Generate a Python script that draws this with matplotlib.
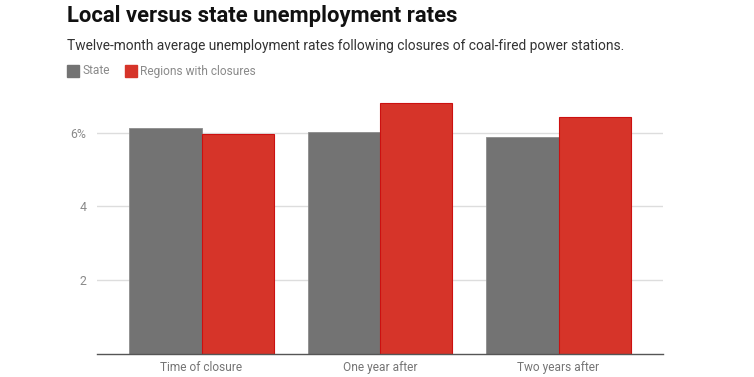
import matplotlib
matplotlib.use("Agg")
import matplotlib.pyplot as plt
import numpy as np

plt.rcParams['font.family'] = ['Roboto', 'DejaVu Sans']

# datos
categorias = ["Time of closure", "One year after", "Two years after"]
estado = [6.13, 6.02, 5.87]
regiones = [5.97, 6.80, 6.43]
series = ["State", "Regions with closures"]
ticks_y = [2, 4, 6]
etiquetas_y = ["2", "4", "6%"]

gris = "#737373"
rojo = "#d63429"

fig = plt.figure(figsize=(7.54, 3.77), dpi=100)
ax = fig.add_axes([0.129, 0.0618, 0.75, 0.684])

x = np.arange(len(categorias))
ancho = 0.4035
ax.bar(x - ancho / 2, estado, ancho, color=gris, edgecolor="#8c8c8c", linewidth=0.6, zorder=3)
ax.bar(x + ancho / 2, regiones, ancho, color=rojo, edgecolor="#cc1010", linewidth=0.8, zorder=3)

ax.set_xlim(-0.584, 2.584)
ax.set_ylim(0, 7)
ax.set_yticks(ticks_y)
ax.set_yticklabels(etiquetas_y)
ax.set_xticks(x)
ax.set_xticklabels(categorias)
ax.tick_params(axis="y", length=0, pad=8, labelsize=8.8, labelcolor="#8a8a8a")
ax.tick_params(axis="x", length=0, pad=5, labelsize=8.6, labelcolor="#757575")
ax.grid(axis="y", color="#dddddd", linewidth=1, zorder=0)
for s in ["top", "right", "left"]:
    ax.spines[s].set_visible(False)
ax.spines["bottom"].set_color("#555555")
ax.spines["bottom"].set_linewidth(1)
ax.spines["bottom"].set_zorder(4)

fig.text(67 / 754, 1 - 16 / 377, "Local versus state unemployment rates",
         fontsize=15.8, fontweight="bold", color="#111111", va="center")
fig.text(67 / 754, 1 - 46 / 377,
         "Twelve-month average unemployment rates following closures of coal-fired power stations.",
         fontsize=9.95, color="#333333", va="center")

# leyenda a mano, arriba a la izquierda
for xs, nombre, color in [(67, series[0], gris), (125, series[1], rojo)]:
    fig.patches.append(plt.Rectangle((xs / 754, 1 - 76.5 / 377), 12 / 754, 12 / 377,
                                     transform=fig.transFigure, color=color))
    fig.text((xs + 15.5) / 754, 1 - 71 / 377, nombre, fontsize=8.6, color="#8a8a8a", va="center")

plt.savefig("out.png", dpi=100)
